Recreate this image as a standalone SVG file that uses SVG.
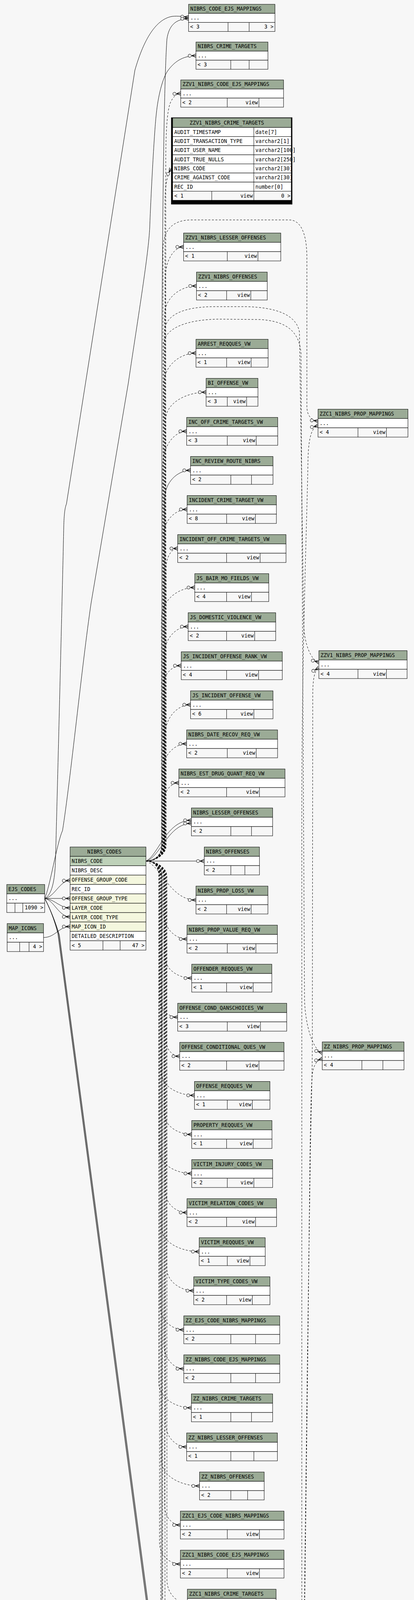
<svg xmlns="http://www.w3.org/2000/svg" width="1059" height="4595" viewBox="0 0 1059 4595">
<style>
.h{fill:#9bab96;stroke:#000;stroke-width:1}
.b{fill:#fff;stroke:#000;stroke-width:1}
.f{fill:#f7f7f7;stroke:#000;stroke-width:1}
.p{fill:#bed1b9;stroke:#000;stroke-width:1}
.k{fill:#f4f7de;stroke:#000;stroke-width:1}
.l{fill:none;stroke:#000;stroke-width:1}
text{font-family:"DejaVu Sans Mono","Liberation Mono",monospace;font-size:13.2px;fill:#000}
.e{text-anchor:end}
.s{fill:none;stroke:#000;stroke-width:1;marker-end:url(#cf)}
.d{stroke-dasharray:5,4}
</style>
<defs>
<marker id="cf" markerUnits="userSpaceOnUse" markerWidth="24" markerHeight="14" refX="22" refY="7" orient="auto" overflow="visible">
<path d="M11,7 L22,2.5 M11,7 L22,7 M11,7 L22,11.5" fill="none" stroke="#000" stroke-width="1.3"/>
<circle cx="6" cy="7" r="4" fill="#f7f7f7" stroke="#000" stroke-width="1"/>
</marker>
</defs>
<rect width="1059" height="4595" fill="#f7f7f7"/>
<g id="connectors">
<path class="s" d="M114.3,2300 C140,2296 152,2255 179.3,2254"/>
<path class="s" d="M114.3,2300 L179.3,2300"/>
<path class="s" d="M114.3,2300 C140,2302 152,2324 179.3,2324"/>
<path class="s" d="M114.3,2300 C138,2304 150,2347 179.3,2347"/>
<path class="s" d="M111.3,2400 C142,2400 150,2372 179.3,2372"/>
<path class="s" d="M114.3,2300 C136,2290 141,2240 142,2200 C146,2050 160,1500 163,1350 C164,1315 166,1300 170,1290 L345,180 C365,110 395,50 440,42 C455,40 470,43 482.3,44"/>
<path class="s" d="M114.3,2300 C128,2270 145,2160 160,2126 C180,2000 210,1700 233,1544 L328,982 C355,800 380,650 383,582 C386,500 395,330 400,290 C404,250 415,200 430,180 C445,160 465,143 501.3,142.5"/>
<path class="s" d="M114.3,2300 C124,2318 138,2350 148,2390 L378,4128 L420,4420 C428,4472 455,4498 501.3,4500"/>
<path class="s" d="M114.3,2300 C125,2320 139,2352 150,2392 L380,4128 L422,4422 C430,4476 458,4503 501.3,4504"/>
<path class="s" d="M114.3,2300 C126,2322 140,2354 152,2394 L382,4128 L424,4424 C432,4480 461,4508 501.3,4509"/>
<path class="s" d="M373.3,2204.3 C392,2204.3 414,2192 414,2165 L414,900 C416,500 420,200 427,100 C432,65 450,48 482.3,48"/>
<path class="s d" d="M373.3,2204.3 C392,2204.3 424,2192 424,2165 L424,420 C424,330 428,285 435,265 C441,250 450,240 462.3,239.5"/>
<path class="s d" d="M373.3,2204.3 C392,2204.3 422,2192 422,2165 L422,520 C422,480 426,452 437.7,431.3"/>
<path class="s d" d="M373.3,2204.3 C392,2204.3 423,2192 423,2165 L423,712.1 C423,664.1 446.3,632.1 469.6,632.1"/>
<path class="s d" d="M373.3,2204.3 C392,2204.3 421,2192 421,2165 L421,807.1 C421,762.1 461.8,732.1 502.6,732.1"/>
<path class="s d" d="M373.3,2204.3 C392,2204.3 419,2192 419,2165 L419,984.1 C419,936.1 460.2,904.1 501.3,904.1"/>
<path class="s d" d="M373.3,2204.3 C392,2204.3 424,2192 424,2165 L424,1074.1 C424,1032.1 475.6,1004.1 527.2,1004.1"/>
<path class="s d" d="M373.3,2204.3 C392,2204.3 416,2192 416,2165 L416,1194.1 C416,1140.1 446.7,1104.1 477.4,1104.1"/>
<path class="s" d="M373.3,2204.3 C392,2204.3 421,2192 421,2165 L421,1279.1 C421,1234.1 454.2,1204.1 487.4,1204.1"/>
<path class="s d" d="M373.3,2204.3 C392,2204.3 418,2192 418,2165 L418,1374.1 C418,1332.1 448.4,1304.1 478.7,1304.1"/>
<path class="s d" d="M373.3,2204.3 C392,2204.3 425,2192 425,2165 L425,1454.1 C425,1424.1 439.8,1404.1 454.5,1404.1"/>
<path class="s d" d="M373.3,2204.3 C392,2204.3 413,2192 413,2165 L413,1584.1 C413,1536.1 455.6,1504.1 498.2,1504.1"/>
<path class="s d" d="M373.3,2204.3 C392,2204.3 420,2192 420,2165 L420,1679.1 C420,1634.1 450.7,1604.1 481.3,1604.1"/>
<path class="s d" d="M373.3,2204.3 C392,2204.3 417,2192 417,2165 L417,1759.1 C417,1726.1 440.3,1704.1 463.6,1704.1"/>
<path class="s d" d="M373.3,2204.3 C392,2204.3 422,2192 422,2165 L422,1884.1 C422,1836.1 454.7,1804.1 487.4,1804.1"/>
<path class="s d" d="M373.3,2204.3 C392,2204.3 415,2192 415,2165 L415,1979.1 C415,1934.1 446.2,1904.1 477.4,1904.1"/>
<path class="s d" d="M373.3,2204.3 C392,2204.3 419,2192 419,2165 L419,2054.1 C419,2024.1 438.3,2004.1 457.5,2004.1"/>
<path class="s" d="M373.3,2204.3 C405,2190 425,2100 489.6,2100"/>
<path class="s" d="M373.3,2204.3 C410,2195 430,2108 489.6,2108"/>
<path class="s" d="M373.3,2204.3 L522.5,2204.3"/>
<path class="s d" d="M373.3,2204.3 C415,2220 435,2304 501.3,2304"/>
<path class="s d" d="M373.3,2204.3 C392,2204.3 418,2216 418,2244 L418,2334 C418,2376 448.2,2404 478.3,2404"/>
<path class="s d" d="M373.3,2204.3 C392,2204.3 422,2216 422,2244 L422,2449 C422,2482 456.2,2504 490.4,2504"/>
<path class="s d" d="M373.3,2204.3 C392,2204.3 409,2216 409,2244 L409,2559 C409,2586 431.8,2604 454.5,2604"/>
<path class="s d" d="M373.3,2204.3 C392,2204.3 425,2216 425,2244 L425,2664 C425,2688 442.4,2704 459.7,2704"/>
<path class="s d" d="M373.3,2204.3 C392,2204.3 412,2216 412,2244 L412,2744.1 C412,2780.1 454.7,2804.1 497.4,2804.1"/>
<path class="s d" d="M373.3,2204.3 C392,2204.3 420,2216 420,2244 L420,2849.1 C420,2882.1 455.2,2904.1 490.4,2904.1"/>
<path class="s d" d="M373.3,2204.3 C392,2204.3 407,2216 407,2244 L407,2944.1 C407,2980.1 448.7,3004.1 490.4,3004.1"/>
<path class="s d" d="M373.3,2204.3 C392,2204.3 423,2216 423,2244 L423,3049.1 C423,3082.1 450.7,3104.1 478.3,3104.1"/>
<path class="s d" d="M373.3,2204.3 C392,2204.3 414,2216 414,2244 L414,3144.1 C414,3180.1 461.8,3204.1 509.5,3204.1"/>
<path class="s d" d="M373.3,2204.3 C392,2204.3 426,2216 426,2244 L426,3244.1 C426,3280.1 460.8,3304.1 495.6,3304.1"/>
<path class="s d" d="M373.3,2204.3 C392,2204.3 410,2216 410,2244 L410,3344.1 C410,3380.1 440.1,3404.1 470.1,3404.1"/>
<path class="s d" d="M373.3,2204.3 C392,2204.3 419,2216 419,2244 L419,3439 C419,3478 444.6,3504 470.1,3504"/>
<path class="s d" d="M373.3,2204.3 C392,2204.3 406,2216 406,2244 L406,3539 C406,3578 447.8,3604 489.6,3604"/>
<path class="s d" d="M373.3,2204.3 C392,2204.3 424,2216 424,2244 L424,3644 C424,3680 450.7,3704 477.4,3704"/>
<path class="s d" d="M373.3,2204.3 C392,2204.3 413,2216 413,2244 L413,3739 C413,3778 461.7,3804 510.4,3804"/>
<path class="s d" d="M373.3,2204.3 C392,2204.3 421,2216 421,2244 L421,3854 C421,3884 441.2,3904 461.4,3904"/>
<path class="s d" d="M373.3,2204.3 C392,2204.3 408,2216 408,2244 L408,3949 C408,3982 434.7,4004 461.4,4004"/>
<path class="s d" d="M373.3,2204.3 C392,2204.3 427,2216 427,2244 L427,4044 C427,4080 453.2,4104 479.3,4104"/>
<path class="s d" d="M373.3,2204.3 C392,2204.3 416,2216 416,2244 L416,4144 C416,4180 441.7,4204 467.3,4204"/>
<path class="s d" d="M373.3,2204.3 C392,2204.3 422,2216 422,2244 L422,4229 C422,4274 461.7,4304 501.3,4304"/>
<path class="s d" d="M373.3,2204.3 C392,2204.3 411,2216 411,2244 L411,4349 C411,4382 436.8,4404 462.5,4404"/>
<path class="s" d="M373.3,2204.3 C392,2204.3 414,2216 414,2244 L414,4406 C414,4460 457.7,4496 501.3,4496"/>
<path class="s d" d="M373.3,2204.3 C392,2204.3 417,2192 417,2165 L417,640 C417,590 440,563 490,563 L740,563 C768,563 785,595 785,660 L785,1040 C785,1064 796,1076 813.5,1078"/>
<path class="s d" d="M373.3,2204.3 C392,2204.3 421,2192 421,2165 L421,850 C421,808 465,786 545,785 L630,785 C705,787 758,805 766,850 L777,1600 C779,1650 795,1690 815.7,1695"/>
<path class="s d" d="M373.3,2204.3 C392,2204.3 418,2192 418,2165 L418,885 C418,838 482,818 560,817 L665,818 C732,822 766,848 770,905 L779,2560 C781,2625 800,2688 824.3,2695"/>
<path class="s d" d="M686.3,4504.3 C725,4502 758,4482 762,4430 L772,4150 L772,2100 C772,1650 785,1350 788,1170 C790,1115 799,1093 813.5,1090"/>
<path class="s d" d="M686.3,4504.3 C725,4502 758,4482 763,4430 L778,4150 L786,3500 L794,2950 C797,2800 799,2740 799,2650 L800,1780 C800,1740 804,1716 815.7,1710"/>
<path class="s d" d="M686.3,4504.3 C725,4502 758,4482 764,4430 L779,4150 L787,3500 L793,2950 C795,2840 796,2775 799,2750 C802,2726 811,2714 824.3,2711"/>
</g>

<g id="n-EJS_CODES">
<rect class="h" x="17.3" y="2264.3" width="97" height="23.9"/>
<rect class="b" x="17.3" y="2288.2" width="97" height="23.9"/>
<rect class="f" x="17.3" y="2312.1" width="97" height="23.9"/>
<path class="l" d="M38.3,2312.1V2336M58.3,2312.1V2336"/>
<text x="21.3" y="2280.5">EJS_CODES</text>
<text x="21.3" y="2304.4">...</text>
<text class="e" x="111" y="2328.3">1090 &gt;</text>
</g>
<g id="n-MAP_ICONS">
<rect class="h" x="18.3" y="2364.3" width="93" height="23.9"/>
<rect class="b" x="18.3" y="2388.2" width="93" height="23.9"/>
<rect class="f" x="18.3" y="2412.1" width="93" height="23.9"/>
<path class="l" d="M50.3,2412.1V2436M74.3,2412.1V2436"/>
<text x="22.3" y="2380.5">MAP_ICONS</text>
<text x="22.3" y="2404.4">...</text>
<text class="e" x="108" y="2428.3">4 &gt;</text>
</g>
<g id="n-NIBRS_CODES">
<rect class="h" x="179.3" y="2168.3" width="194" height="24"/>
<rect class="p" x="179.3" y="2192.3" width="194" height="24"/>
<rect class="b" x="179.3" y="2216.3" width="194" height="24"/>
<rect class="k" x="179.3" y="2240.3" width="194" height="24"/>
<rect class="b" x="179.3" y="2264.3" width="194" height="24"/>
<rect class="k" x="179.3" y="2288.3" width="194" height="24"/>
<rect class="k" x="179.3" y="2312.3" width="194" height="24"/>
<rect class="k" x="179.3" y="2336.3" width="194" height="24"/>
<rect class="k" x="179.3" y="2360.3" width="194" height="24"/>
<rect class="b" x="179.3" y="2384.3" width="194" height="24"/>
<rect class="f" x="179.3" y="2408.3" width="194" height="24"/>
<path class="l" d="M263.3,2408.3V2432.3M307.3,2408.3V2432.3"/>
<text x="223.3" y="2184.8">NIBRS_CODES</text>
<text x="183.3" y="2208.8">NIBRS_CODE</text>
<text x="183.3" y="2232.8">NIBRS_DESC</text>
<text x="183.3" y="2256.8">OFFENSE_GROUP_CODE</text>
<text x="183.3" y="2280.8">REC_ID</text>
<text x="183.3" y="2304.8">OFFENSE_GROUP_TYPE</text>
<text x="183.3" y="2328.8">LAYER_CODE</text>
<text x="183.3" y="2352.8">LAYER_CODE_TYPE</text>
<text x="183.3" y="2376.8">MAP_ICON_ID</text>
<text x="183.3" y="2400.8">DETAILED_DESCRIPTION</text>
<text x="183.3" y="2424.8">&lt; 5</text>
<text class="e" x="369.8" y="2424.8">47 &gt;</text>
</g>

<g id="n-NIBRS_CODE_EJS_MAPPINGS">
<rect class="h" x="482.3" y="11" width="221" height="23.2"/>
<rect class="b" x="482.3" y="34.2" width="221" height="23.2"/>
<rect class="f" x="482.3" y="57.4" width="221" height="23.2"/>
<path class="l" d="M583.3,57.4V80.6M637.3,57.4V80.6"/>
<text x="486.7" y="26.7">NIBRS_CODE_EJS_MAPPINGS</text>
<text x="486.7" y="49.9">...</text>
<text x="486.3" y="73.1">&lt; 3</text>
<text class="e" x="699.8" y="73.1">3 &gt;</text>
</g>
<g id="n-NIBRS_CRIME_TARGETS">
<rect class="h" x="501.3" y="107.7" width="184" height="23.2"/>
<rect class="b" x="501.3" y="130.9" width="184" height="23.2"/>
<rect class="f" x="501.3" y="154.1" width="184" height="23.2"/>
<path class="l" d="M590.3,154.1V177.3M637.3,154.1V177.3"/>
<text x="505.7" y="123.4">NIBRS_CRIME_TARGETS</text>
<text x="505.7" y="146.6">...</text>
<text x="505.3" y="169.8">&lt; 3</text>
</g>
<g id="n-ZZV1_NIBRS_CODE_EJS_MAPPINGS">
<rect class="h" x="462.3" y="204.7" width="263" height="23.2"/>
<rect class="b" x="462.3" y="227.9" width="263" height="23.2"/>
<rect class="f" x="462.3" y="251.1" width="263" height="23.2"/>
<path class="l" d="M581.3,251.1V274.3M662.3,251.1V274.3"/>
<text x="466.7" y="220.4">ZZV1_NIBRS_CODE_EJS_MAPPINGS</text>
<text x="466.7" y="243.6">...</text>
<text x="466.3" y="266.8">&lt; 2</text>
<text class="e" x="659.8" y="266.8">view</text>
</g>
<g id="n-ZZV1_NIBRS_CRIME_TARGETS">
<rect x="437.7" y="300.7" width="309.6" height="222.6" fill="#000"/>
<rect class="h" x="441.7" y="302" width="303.3" height="24.3"/>
<rect class="b" x="441.7" y="326.3" width="303.3" height="23.3"/>
<rect class="b" x="441.7" y="349.6" width="303.3" height="23.3"/>
<rect class="b" x="441.7" y="372.9" width="303.3" height="23.4"/>
<rect class="b" x="441.7" y="396.3" width="303.3" height="23.3"/>
<rect class="b" x="441.7" y="419.6" width="303.3" height="23.3"/>
<rect class="b" x="441.7" y="442.9" width="303.3" height="23.3"/>
<rect class="b" x="441.7" y="466.2" width="303.3" height="23.3"/>
<rect class="f" x="441.7" y="489.5" width="303.3" height="23.3"/>
<path class="l" d="M649.3,326.3V512.8M541.7,489.5V512.8"/>
<text x="485" y="318.5">ZZV1_NIBRS_CRIME_TARGETS</text>
<text x="445.7" y="342.6">AUDIT_TIMESTAMP</text>
<text x="653.3" y="342.6">date[7]</text>
<text x="445.7" y="365.9">AUDIT_TRANSACTION_TYPE</text>
<text x="653.3" y="365.9">varchar2[1]</text>
<text x="445.7" y="389.2">AUDIT_USER_NAME</text>
<text x="653.3" y="389.2">varchar2[100]</text>
<text x="445.7" y="412.6">AUDIT_TRUE_NULLS</text>
<text x="653.3" y="412.6">varchar2[250]</text>
<text x="445.7" y="435.9">NIBRS_CODE</text>
<text x="653.3" y="435.9">varchar2[30]</text>
<text x="445.7" y="459.2">CRIME_AGAINST_CODE</text>
<text x="653.3" y="459.2">varchar2[30]</text>
<text x="445.7" y="482.5">REC_ID</text>
<text x="653.3" y="482.5">number[0]</text>
<text x="445.7" y="505.8">&lt; 1</text>
<text class="e" x="646.7" y="505.8">view</text>
<text class="e" x="743" y="505.8">0 &gt;</text>
<rect x="745" y="300.7" width="2.6" height="222.6" fill="#000"/>
</g>

<g id="n-ZZV1_NIBRS_LESSER_OFFENSES">
<rect class="h" x="469.6" y="596.6" width="248.6" height="23.8"/><rect class="b" x="469.6" y="620.4" width="248.6" height="23.8"/><rect class="f" x="469.6" y="644.2" width="248.6" height="23.8"/>
<path class="l" d="M581.4,644.2V668M659.8,644.2V668"/>
<text x="474" y="612.8">ZZV1_NIBRS_LESSER_OFFENSES</text><text x="474" y="636.6">...</text><text x="473.6" y="660.4">&lt; 1</text><text class="e" x="657.3" y="660.4">view</text>
</g>
<g id="n-ZZV1_NIBRS_OFFENSES">
<rect class="h" x="502.6" y="696.6" width="181" height="23.8"/><rect class="b" x="502.6" y="720.4" width="181" height="23.8"/><rect class="f" x="502.6" y="744.2" width="181" height="23.8"/>
<path class="l" d="M579.7,744.2V768M641.6,744.2V768"/>
<text x="507" y="712.8">ZZV1_NIBRS_OFFENSES</text><text x="507" y="736.6">...</text><text x="506.6" y="760.4">&lt; 2</text><text class="e" x="639.1" y="760.4">view</text>
</g>
<g id="n-ARREST_REQQUES_VW">
<rect class="h" x="501.3" y="868.6" width="184.5" height="23.8"/><rect class="b" x="501.3" y="892.4" width="184.5" height="23.8"/><rect class="f" x="501.3" y="916.2" width="184.5" height="23.8"/>
<path class="l" d="M579.7,916.2V940M642.4,916.2V940"/>
<text x="505.7" y="884.8">ARREST_REQQUES_VW</text><text x="505.7" y="908.6">...</text><text x="505.3" y="932.4">&lt; 1</text><text class="e" x="639.9" y="932.4">view</text>
</g>
<g id="n-BI_OFFENSE_VW">
<rect class="h" x="527.2" y="968.6" width="132.6" height="23.8"/><rect class="b" x="527.2" y="992.4" width="132.6" height="23.8"/><rect class="f" x="527.2" y="1016.2" width="132.6" height="23.8"/>
<path class="l" d="M581.4,1016.2V1040M630.8,1016.2V1040"/>
<text x="531.6" y="984.8">BI_OFFENSE_VW</text><text x="531.6" y="1008.6">...</text><text x="531.2" y="1032.4">&lt; 3</text><text class="e" x="628.3" y="1032.4">view</text>
</g>
<g id="n-INC_OFF_CRIME_TARGETS_VW">
<rect class="h" x="477.4" y="1068.6" width="233" height="23.8"/><rect class="b" x="477.4" y="1092.4" width="233" height="23.8"/><rect class="f" x="477.4" y="1116.2" width="233" height="23.8"/>
<path class="l" d="M581.4,1116.2V1140M655.4,1116.2V1140"/>
<text x="481.8" y="1084.8">INC_OFF_CRIME_TARGETS_VW</text><text x="481.8" y="1108.6">...</text><text x="481.4" y="1132.4">&lt; 3</text><text class="e" x="652.9" y="1132.4">view</text>
</g>
<g id="n-INC_REVIEW_ROUTE_NIBRS">
<rect class="h" x="487.4" y="1168.6" width="210.9" height="23.8"/><rect class="b" x="487.4" y="1192.4" width="210.9" height="23.8"/><rect class="f" x="487.4" y="1216.2" width="210.9" height="23.8"/>
<path class="l" d="M590.5,1216.2V1240M643.3,1216.2V1240"/>
<text x="491.8" y="1184.8">INC_REVIEW_ROUTE_NIBRS</text><text x="491.8" y="1208.6">...</text><text x="491.4" y="1232.4">&lt; 2</text>
</g>
<g id="n-INCIDENT_CRIME_TARGET_VW">
<rect class="h" x="478.7" y="1268.6" width="228.3" height="23.8"/><rect class="b" x="478.7" y="1292.4" width="228.3" height="23.8"/><rect class="f" x="478.7" y="1316.2" width="228.3" height="23.8"/>
<path class="l" d="M579.7,1316.2V1340M653.3,1316.2V1340"/>
<text x="483.1" y="1284.8">INCIDENT_CRIME_TARGET_VW</text><text x="483.1" y="1308.6">...</text><text x="482.7" y="1332.4">&lt; 8</text><text class="e" x="650.8" y="1332.4">view</text>
</g>
<g id="n-INCIDENT_OFF_CRIME_TARGETS_VW">
<rect class="h" x="454.5" y="1368.6" width="277.1" height="23.8"/><rect class="b" x="454.5" y="1392.4" width="277.1" height="23.8"/><rect class="f" x="454.5" y="1416.2" width="277.1" height="23.8"/>
<path class="l" d="M579.6,1416.2V1440M665.4,1416.2V1440"/>
<text x="458.9" y="1384.8">INCIDENT_OFF_CRIME_TARGETS_VW</text><text x="458.9" y="1408.6">...</text><text x="458.5" y="1432.4">&lt; 2</text><text class="e" x="662.9" y="1432.4">view</text>
</g>
<g id="n-JS_BAIR_MO_FIELDS_VW">
<rect class="h" x="498.2" y="1468.6" width="189.3" height="23.8"/><rect class="b" x="498.2" y="1492.4" width="189.3" height="23.8"/><rect class="f" x="498.2" y="1516.2" width="189.3" height="23.8"/>
<path class="l" d="M579.6,1516.2V1540M643.3,1516.2V1540"/>
<text x="502.6" y="1484.8">JS_BAIR_MO_FIELDS_VW</text><text x="502.6" y="1508.6">...</text><text x="502.2" y="1532.4">&lt; 4</text><text class="e" x="640.8" y="1532.4">view</text>
</g>
<g id="n-JS_DOMESTIC_VIOLENCE_VW">
<rect class="h" x="481.3" y="1568.6" width="223.9" height="23.8"/><rect class="b" x="481.3" y="1592.4" width="223.9" height="23.8"/><rect class="f" x="481.3" y="1616.2" width="223.9" height="23.8"/>
<path class="l" d="M579.6,1616.2V1640M651.5,1616.2V1640"/>
<text x="485.7" y="1584.8">JS_DOMESTIC_VIOLENCE_VW</text><text x="485.7" y="1608.6">...</text><text x="485.3" y="1632.4">&lt; 2</text><text class="e" x="649" y="1632.4">view</text>
</g>
<g id="n-JS_INCIDENT_OFFENSE_RANK_VW">
<rect class="h" x="463.6" y="1668.6" width="258.5" height="23.8"/><rect class="b" x="463.6" y="1692.4" width="258.5" height="23.8"/><rect class="f" x="463.6" y="1716.2" width="258.5" height="23.8"/>
<path class="l" d="M579.6,1716.2V1740M661.5,1716.2V1740"/>
<text x="468" y="1684.8">JS_INCIDENT_OFFENSE_RANK_VW</text><text x="468" y="1708.6">...</text><text x="467.6" y="1732.4">&lt; 4</text><text class="e" x="659" y="1732.4">view</text>
</g>
<g id="n-JS_INCIDENT_OFFENSE_VW">
<rect class="h" x="487.4" y="1768.6" width="210.9" height="23.8"/><rect class="b" x="487.4" y="1792.4" width="210.9" height="23.8"/><rect class="f" x="487.4" y="1816.2" width="210.9" height="23.8"/>
<path class="l" d="M579.6,1816.2V1840M649.4,1816.2V1840"/>
<text x="491.8" y="1784.8">JS_INCIDENT_OFFENSE_VW</text><text x="491.8" y="1808.6">...</text><text x="491.4" y="1832.4">&lt; 6</text><text class="e" x="646.9" y="1832.4">view</text>
</g>
<g id="n-NIBRS_DATE_RECOV_REQ_VW">
<rect class="h" x="477.4" y="1868.6" width="232.6" height="23.8"/><rect class="b" x="477.4" y="1892.4" width="232.6" height="23.8"/><rect class="f" x="477.4" y="1916.2" width="232.6" height="23.8"/>
<path class="l" d="M581.4,1916.2V1940M655.4,1916.2V1940"/>
<text x="481.8" y="1884.8">NIBRS_DATE_RECOV_REQ_VW</text><text x="481.8" y="1908.6">...</text><text x="481.4" y="1932.4">&lt; 2</text><text class="e" x="652.9" y="1932.4">view</text>
</g>
<g id="n-NIBRS_EST_DRUG_QUANT_REQ_VW">
<rect class="h" x="457.5" y="1968.6" width="271.5" height="23.8"/><rect class="b" x="457.5" y="1992.4" width="271.5" height="23.8"/><rect class="f" x="457.5" y="2016.2" width="271.5" height="23.8"/>
<path class="l" d="M579.6,2016.2V2040M663.7,2016.2V2040"/>
<text x="461.9" y="1984.8">NIBRS_EST_DRUG_QUANT_REQ_VW</text><text x="461.9" y="2008.6">...</text><text x="461.5" y="2032.4">&lt; 2</text><text class="e" x="661.2" y="2032.4">view</text>
</g>
<g id="n-NIBRS_LESSER_OFFENSES">
<rect class="h" x="489.6" y="2068.4" width="207.8" height="23.8"/><rect class="b" x="489.6" y="2092.2" width="207.8" height="23.8"/><rect class="f" x="489.6" y="2116" width="207.8" height="23.8"/>
<path class="l" d="M590.5,2116V2139.8M643.3,2116V2139.8"/>
<text x="494" y="2084.6">NIBRS_LESSER_OFFENSES</text><text x="494" y="2108.4">...</text><text x="493.6" y="2132.2">&lt; 2</text>
</g>
<g id="n-NIBRS_OFFENSES">
<rect class="h" x="522.5" y="2168.4" width="141.2" height="23.8"/><rect class="b" x="522.5" y="2192.2" width="141.2" height="23.8"/><rect class="f" x="522.5" y="2216" width="141.2" height="23.8"/>
<path class="l" d="M590.5,2216V2239.8M626.4,2216V2239.8"/>
<text x="526.9" y="2184.6">NIBRS_OFFENSES</text><text x="526.9" y="2208.4">...</text><text x="526.5" y="2232.2">&lt; 2</text>
</g>
<g id="n-NIBRS_PROP_LOSS_VW">
<rect class="h" x="501.3" y="2268.4" width="184" height="23.8"/><rect class="b" x="501.3" y="2292.2" width="184" height="23.8"/><rect class="f" x="501.3" y="2316" width="184" height="23.8"/>
<path class="l" d="M579.6,2316V2339.8M642.4,2316V2339.8"/>
<text x="505.7" y="2284.6">NIBRS_PROP_LOSS_VW</text><text x="505.7" y="2308.4">...</text><text x="505.3" y="2332.2">&lt; 2</text><text class="e" x="639.9" y="2332.2">view</text>
</g>
<g id="n-NIBRS_PROP_VALUE_REQ_VW">
<rect class="h" x="478.3" y="2368.4" width="231.3" height="23.8"/><rect class="b" x="478.3" y="2392.2" width="231.3" height="23.8"/><rect class="f" x="478.3" y="2416" width="231.3" height="23.8"/>
<path class="l" d="M581.4,2416V2439.8M654.6,2416V2439.8"/>
<text x="482.7" y="2384.6">NIBRS_PROP_VALUE_REQ_VW</text><text x="482.7" y="2408.4">...</text><text x="482.3" y="2432.2">&lt; 2</text><text class="e" x="652.1" y="2432.2">view</text>
</g>
<g id="n-OFFENDER_REQQUES_VW">
<rect class="h" x="490.4" y="2468.4" width="204.9" height="23.8"/><rect class="b" x="490.4" y="2492.2" width="204.9" height="23.8"/><rect class="f" x="490.4" y="2516" width="204.9" height="23.8"/>
<path class="l" d="M579.6,2516V2539.8M647.6,2516V2539.8"/>
<text x="494.8" y="2484.6">OFFENDER_REQQUES_VW</text><text x="494.8" y="2508.4">...</text><text x="494.4" y="2532.2">&lt; 1</text><text class="e" x="645.1" y="2532.2">view</text>
</g>
<g id="n-OFFENSE_COND_QANSCHOICES_VW">
<rect class="h" x="454.5" y="2568.4" width="278.9" height="23.8"/><rect class="b" x="454.5" y="2592.2" width="278.9" height="23.8"/><rect class="f" x="454.5" y="2616" width="278.9" height="23.8"/>
<path class="l" d="M581.4,2616V2639.8M666.3,2616V2639.8"/>
<text x="458.9" y="2584.6">OFFENSE_COND_QANSCHOICES_VW</text><text x="458.9" y="2608.4">...</text><text x="458.5" y="2632.2">&lt; 3</text><text class="e" x="663.8" y="2632.2">view</text>
</g>
<g id="n-OFFENSE_CONDITIONAL_QUES_VW">
<rect class="h" x="459.7" y="2668.4" width="266.8" height="23.8"/><rect class="b" x="459.7" y="2692.2" width="266.8" height="23.8"/><rect class="f" x="459.7" y="2716" width="266.8" height="23.8"/>
<path class="l" d="M579.6,2716V2739.8M662.4,2716V2739.8"/>
<text x="464.1" y="2684.6">OFFENSE_CONDITIONAL_QUES_VW</text><text x="464.1" y="2708.4">...</text><text x="463.7" y="2732.2">&lt; 2</text><text class="e" x="659.9" y="2732.2">view</text>
</g>
<g id="n-OFFENSE_REQQUES_VW">
<rect class="h" x="497.4" y="2768.6" width="193.1" height="23.8"/><rect class="b" x="497.4" y="2792.4" width="193.1" height="23.8"/><rect class="f" x="497.4" y="2816.2" width="193.1" height="23.8"/>
<path class="l" d="M581.4,2816.2V2840M645.5,2816.2V2840"/>
<text x="501.8" y="2784.8">OFFENSE_REQQUES_VW</text><text x="501.8" y="2808.6">...</text><text x="501.4" y="2832.4">&lt; 1</text><text class="e" x="643" y="2832.4">view</text>
</g>
<g id="n-PROPERTY_REQQUES_VW">
<rect class="h" x="490.4" y="2868.6" width="205.3" height="23.8"/><rect class="b" x="490.4" y="2892.4" width="205.3" height="23.8"/><rect class="f" x="490.4" y="2916.2" width="205.3" height="23.8"/>
<path class="l" d="M579.6,2916.2V2940M647.6,2916.2V2940"/>
<text x="494.8" y="2884.8">PROPERTY_REQQUES_VW</text><text x="494.8" y="2908.6">...</text><text x="494.4" y="2932.4">&lt; 1</text><text class="e" x="645.1" y="2932.4">view</text>
</g>
<g id="n-VICTIM_INJURY_CODES_VW">
<rect class="h" x="490.4" y="2968.6" width="207" height="23.8"/><rect class="b" x="490.4" y="2992.4" width="207" height="23.8"/><rect class="f" x="490.4" y="3016.2" width="207" height="23.8"/>
<path class="l" d="M581.4,3016.2V3040M649.4,3016.2V3040"/>
<text x="494.8" y="2984.8">VICTIM_INJURY_CODES_VW</text><text x="494.8" y="3008.6">...</text><text x="494.4" y="3032.4">&lt; 2</text><text class="e" x="646.9" y="3032.4">view</text>
</g>
<g id="n-VICTIM_RELATION_CODES_VW">
<rect class="h" x="478.3" y="3068.6" width="229.1" height="23.8"/><rect class="b" x="478.3" y="3092.4" width="229.1" height="23.8"/><rect class="f" x="478.3" y="3116.2" width="229.1" height="23.8"/>
<path class="l" d="M579.6,3116.2V3140M653.7,3116.2V3140"/>
<text x="482.7" y="3084.8">VICTIM_RELATION_CODES_VW</text><text x="482.7" y="3108.6">...</text><text x="482.3" y="3132.4">&lt; 2</text><text class="e" x="651.2" y="3132.4">view</text>
</g>
<g id="n-VICTIM_REQQUES_VW">
<rect class="h" x="509.5" y="3168.6" width="168.9" height="23.8"/><rect class="b" x="509.5" y="3192.4" width="168.9" height="23.8"/><rect class="f" x="509.5" y="3216.2" width="168.9" height="23.8"/>
<path class="l" d="M581.4,3216.2V3240M639.4,3216.2V3240"/>
<text x="513.9" y="3184.8">VICTIM_REQQUES_VW</text><text x="513.9" y="3208.6">...</text><text x="513.5" y="3232.4">&lt; 1</text><text class="e" x="636.9" y="3232.4">view</text>
</g>
<g id="n-VICTIM_TYPE_CODES_VW">
<rect class="h" x="495.6" y="3268.6" width="194.9" height="23.8"/><rect class="b" x="495.6" y="3292.4" width="194.9" height="23.8"/><rect class="f" x="495.6" y="3316.2" width="194.9" height="23.8"/>
<path class="l" d="M579.6,3316.2V3340M645.5,3316.2V3340"/>
<text x="500" y="3284.8">VICTIM_TYPE_CODES_VW</text><text x="500" y="3308.6">...</text><text x="499.6" y="3332.4">&lt; 2</text><text class="e" x="643" y="3332.4">view</text>
</g>
<g id="n-ZZ_EJS_CODE_NIBRS_MAPPINGS">
<rect class="h" x="470.1" y="3368.6" width="245.5" height="23.8"/><rect class="b" x="470.1" y="3392.4" width="245.5" height="23.8"/><rect class="f" x="470.1" y="3416.2" width="245.5" height="23.8"/>
<path class="l" d="M590.5,3416.2V3440M653.7,3416.2V3440"/>
<text x="474.5" y="3384.8">ZZ_EJS_CODE_NIBRS_MAPPINGS</text><text x="474.5" y="3408.6">...</text><text x="474.1" y="3432.4">&lt; 2</text>
</g>
<g id="n-ZZ_NIBRS_CODE_EJS_MAPPINGS">
<rect class="h" x="470.1" y="3468.4" width="245.5" height="23.8"/><rect class="b" x="470.1" y="3492.2" width="245.5" height="23.8"/><rect class="f" x="470.1" y="3516" width="245.5" height="23.8"/>
<path class="l" d="M590.5,3516V3539.8M653.7,3516V3539.8"/>
<text x="474.5" y="3484.6">ZZ_NIBRS_CODE_EJS_MAPPINGS</text><text x="474.5" y="3508.4">...</text><text x="474.1" y="3532.2">&lt; 2</text>
</g>
<g id="n-ZZ_NIBRS_CRIME_TARGETS">
<rect class="h" x="489.6" y="3568.4" width="207.8" height="23.8"/><rect class="b" x="489.6" y="3592.2" width="207.8" height="23.8"/><rect class="f" x="489.6" y="3616" width="207.8" height="23.8"/>
<path class="l" d="M590.5,3616V3639.8M643.3,3616V3639.8"/>
<text x="494" y="3584.6">ZZ_NIBRS_CRIME_TARGETS</text><text x="494" y="3608.4">...</text><text x="493.6" y="3632.2">&lt; 1</text>
</g>
<g id="n-ZZ_NIBRS_LESSER_OFFENSES">
<rect class="h" x="477.4" y="3668.4" width="232.2" height="23.8"/><rect class="b" x="477.4" y="3692.2" width="232.2" height="23.8"/><rect class="f" x="477.4" y="3716" width="232.2" height="23.8"/>
<path class="l" d="M590.5,3716V3739.8M649.4,3716V3739.8"/>
<text x="481.8" y="3684.6">ZZ_NIBRS_LESSER_OFFENSES</text><text x="481.8" y="3708.4">...</text><text x="481.4" y="3732.2">&lt; 1</text>
</g>
<g id="n-ZZ_NIBRS_OFFENSES">
<rect class="h" x="510.4" y="3768.4" width="165.4" height="23.8"/><rect class="b" x="510.4" y="3792.2" width="165.4" height="23.8"/><rect class="f" x="510.4" y="3816" width="165.4" height="23.8"/>
<path class="l" d="M590.5,3816V3839.8M633.4,3816V3839.8"/>
<text x="514.8" y="3784.6">ZZ_NIBRS_OFFENSES</text><text x="514.8" y="3808.4">...</text><text x="514.4" y="3832.2">&lt; 2</text>
</g>
<g id="n-ZZC1_EJS_CODE_NIBRS_MAPPINGS">
<rect class="h" x="461.4" y="3868.4" width="265.1" height="23.8"/><rect class="b" x="461.4" y="3892.2" width="265.1" height="23.8"/><rect class="f" x="461.4" y="3916" width="265.1" height="23.8"/>
<path class="l" d="M581.4,3916V3939.8M663.7,3916V3939.8"/>
<text x="465.8" y="3884.6">ZZC1_EJS_CODE_NIBRS_MAPPINGS</text><text x="465.8" y="3908.4">...</text><text x="465.4" y="3932.2">&lt; 2</text><text class="e" x="661.2" y="3932.2">view</text>
</g>
<g id="n-ZZC1_NIBRS_CODE_EJS_MAPPINGS">
<rect class="h" x="461.4" y="3968.4" width="265.1" height="23.8"/><rect class="b" x="461.4" y="3992.2" width="265.1" height="23.8"/><rect class="f" x="461.4" y="4016" width="265.1" height="23.8"/>
<path class="l" d="M581.4,4016V4039.8M663.7,4016V4039.8"/>
<text x="465.8" y="3984.6">ZZC1_NIBRS_CODE_EJS_MAPPINGS</text><text x="465.8" y="4008.4">...</text><text x="465.4" y="4032.2">&lt; 2</text><text class="e" x="661.2" y="4032.2">view</text>
</g>
<g id="n-ZZC1_NIBRS_CRIME_TARGETS">
<rect class="h" x="479.3" y="4068.4" width="226.9" height="23.8"/><rect class="b" x="479.3" y="4092.2" width="226.9" height="23.8"/><rect class="f" x="479.3" y="4116" width="226.9" height="23.8"/>
<path class="l" d="M579.4,4116V4139.8M653.6,4116V4139.8"/>
<text x="483.7" y="4084.6">ZZC1_NIBRS_CRIME_TARGETS</text><text x="483.7" y="4108.4">...</text><text x="483.3" y="4132.2">&lt; 1</text><text class="e" x="651.1" y="4132.2">view</text>
</g>
<g id="n-ZZC1_NIBRS_LESSER_OFFENSES">
<rect class="h" x="467.3" y="4168.4" width="251" height="23.8"/><rect class="b" x="467.3" y="4192.2" width="251" height="23.8"/><rect class="f" x="467.3" y="4216" width="251" height="23.8"/>
<path class="l" d="M579.4,4216V4239.8M658.4,4216V4239.8"/>
<text x="471.7" y="4184.6">ZZC1_NIBRS_LESSER_OFFENSES</text><text x="471.7" y="4208.4">...</text><text x="471.3" y="4232.2">&lt; 1</text><text class="e" x="655.9" y="4232.2">view</text>
</g>
<g id="n-ZZC1_NIBRS_OFFENSES">
<rect class="h" x="501.3" y="4268.4" width="184" height="23.8"/><rect class="b" x="501.3" y="4292.2" width="184" height="23.8"/><rect class="f" x="501.3" y="4316" width="184" height="23.8"/>
<path class="l" d="M579.4,4316V4339.8M642.3,4316V4339.8"/>
<text x="505.7" y="4284.6">ZZC1_NIBRS_OFFENSES</text><text x="505.7" y="4308.4">...</text><text x="505.3" y="4332.2">&lt; 2</text><text class="e" x="639.8" y="4332.2">view</text>
</g>
<g id="n-ZZV1_EJS_CODE_NIBRS_MAPPINGS">
<rect class="h" x="462.5" y="4368.4" width="263" height="23.8"/><rect class="b" x="462.5" y="4392.2" width="263" height="23.8"/><rect class="f" x="462.5" y="4416" width="263" height="23.8"/>
<path class="l" d="M581.4,4416V4439.8M662.2,4416V4439.8"/>
<text x="466.9" y="4384.6">ZZV1_EJS_CODE_NIBRS_MAPPINGS</text><text x="466.9" y="4408.4">...</text><text x="466.5" y="4432.2">&lt; 2</text><text class="e" x="659.7" y="4432.2">view</text>
</g>
<g id="n-NIBRS_PROP_MAPPINGS">
<rect class="h" x="501.3" y="4468.5" width="185" height="23.8"/><rect class="b" x="501.3" y="4492.3" width="185" height="23.8"/><rect class="f" x="501.3" y="4516.1" width="185" height="23.8"/>
<path class="l" d="M585.2,4516.1V4539.9M629.2,4516.1V4539.9"/>
<text x="505.7" y="4484.7">NIBRS_PROP_MAPPINGS</text><text x="505.7" y="4508.5">...</text><text x="505.3" y="4532.3">&lt; 5</text><text class="e" x="682.8" y="4532.3">3 &gt;</text>
</g>
<g id="n-ZZC1_NIBRS_PROP_MAPPINGS">
<rect class="h" x="813.5" y="1047.6" width="230" height="23.8"/><rect class="b" x="813.5" y="1071.4" width="230" height="23.8"/><rect class="f" x="813.5" y="1095.2" width="230" height="23.8"/>
<path class="l" d="M915.7,1095.2V1119M988.5,1095.2V1119"/>
<text x="817.5" y="1063.8">ZZC1_NIBRS_PROP_MAPPINGS</text><text x="817.5" y="1087.6">...</text><text x="817.5" y="1111.4">&lt; 4</text><text class="e" x="986" y="1111.4">view</text>
</g>
<g id="n-ZZV1_NIBRS_PROP_MAPPINGS">
<rect class="h" x="815.7" y="1665.7" width="225.6" height="23.8"/><rect class="b" x="815.7" y="1689.5" width="225.6" height="23.8"/><rect class="f" x="815.7" y="1713.3" width="225.6" height="23.8"/>
<path class="l" d="M915.7,1713.3V1737.1M988.5,1713.3V1737.1"/>
<text x="819.7" y="1681.9">ZZV1_NIBRS_PROP_MAPPINGS</text><text x="819.7" y="1705.7">...</text><text x="819.7" y="1729.5">&lt; 4</text><text class="e" x="986" y="1729.5">view</text>
</g>
<g id="n-ZZ_NIBRS_PROP_MAPPINGS">
<rect class="h" x="824.3" y="2667.3" width="209.1" height="23.8"/><rect class="b" x="824.3" y="2691.1" width="209.1" height="23.8"/><rect class="f" x="824.3" y="2714.9" width="209.1" height="23.8"/>
<path class="l" d="M925.7,2714.9V2738.7M979.4,2714.9V2738.7"/>
<text x="828.3" y="2683.5">ZZ_NIBRS_PROP_MAPPINGS</text><text x="828.3" y="2707.3">...</text><text x="828.3" y="2731.1">&lt; 4</text>
</g>
<text x="16" y="4581.7">Generated by SchemaSpy</text>
</svg>
